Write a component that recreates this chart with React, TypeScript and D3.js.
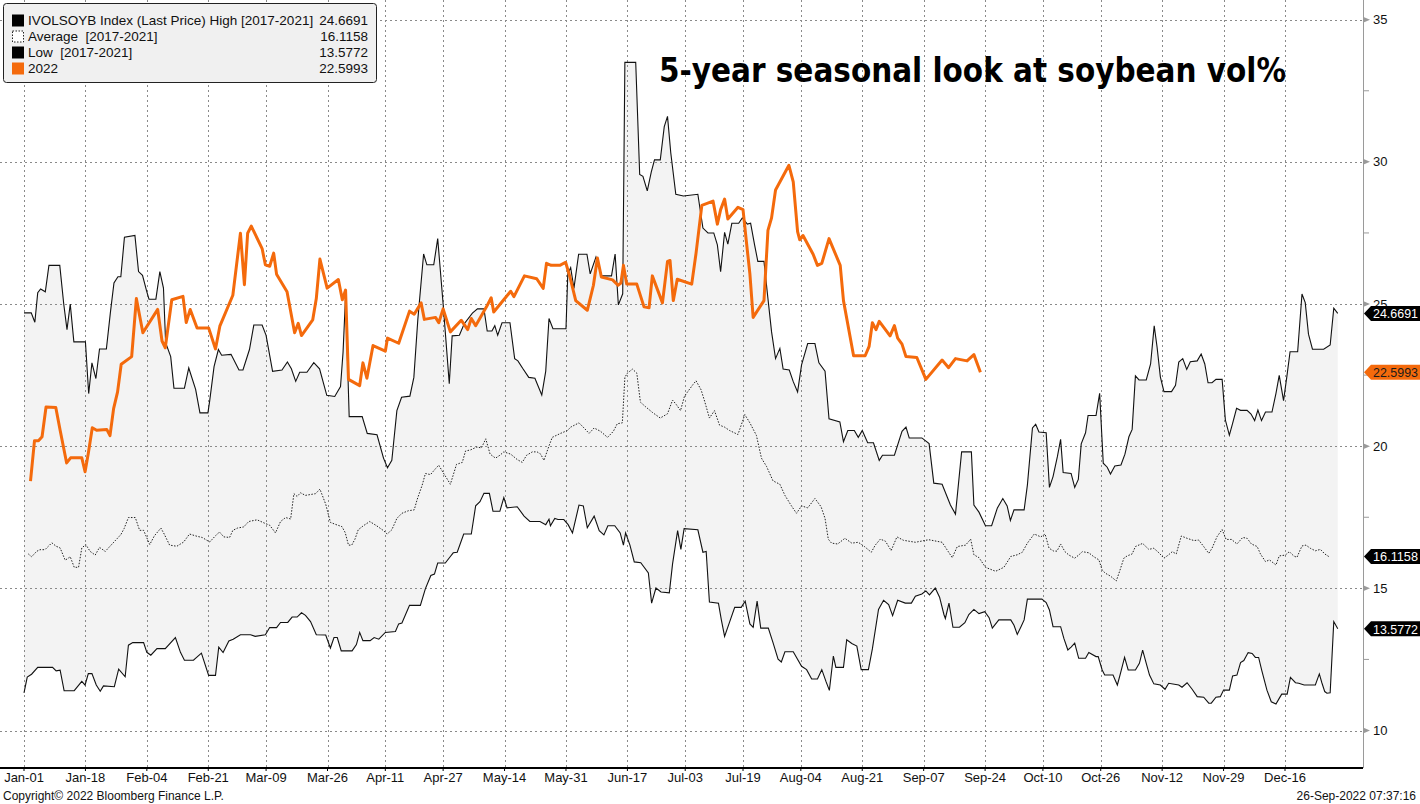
import * as d3 from "d3";

// x values are days since Jan-01, y values are implied vol in %
const tickDays = [0, 17, 34, 51, 67, 84, 100, 116, 133, 150, 167, 183, 199, 215, 232, 249, 266, 282, 298, 315, 332, 349];
const tickLabels = ["Jan-01", "Jan-18", "Feb-04", "Feb-21", "Mar-09", "Mar-26", "Apr-11", "Apr-27", "May-14", "May-31", "Jun-17", "Jul-03", "Jul-19", "Aug-04", "Aug-21", "Sep-07", "Sep-24", "Oct-10", "Oct-26", "Nov-12", "Nov-29", "Dec-16"];
const yTicks = [10, 15, 20, 25, 30, 35];
const yMinor = [12.5, 17.5, 22.5, 27.5, 32.5];

const highPts: [number, number][] = [
  [0, 24.69], [2, 24.69], [3, 24.36], [3.8, 25.4], [4.6, 25.53], [5.9, 25.43], [6.9, 26.36], [9.9, 26.36], [11, 25.0], [11.9, 24.1], [12.8, 25.0], [13.8, 23.67], [17, 23.67], [17.9, 21.85], [18.8, 22.93], [19.9, 22.38], [20.9, 23.42], [22.8, 23.42], [23.9, 24.69], [24.9, 25.74], [26, 25.96], [26.8, 25.96], [27.8, 27.35], [30.7, 27.41], [31.7, 26.14], [32.8, 26.01], [34, 25.43], [34.6, 25.17], [36.5, 25.17], [37.6, 26.14], [38.6, 25.56], [39.2, 23.64], [40.6, 23.15], [41.5, 22.04], [44.4, 22.04], [45.6, 22.75], [47.5, 22.0], [48.7, 21.17], [50.9, 21.17], [51.4, 21.6], [52.6, 22.8], [53.8, 23.4], [54.7, 23.2], [57.3, 23.23], [59.5, 22.68], [60.6, 22.68], [62.4, 23.4], [63.6, 24.26], [65.9, 24.26], [67, 23.9], [68.8, 22.63], [71.4, 22.68], [72.9, 22.96], [74, 22.72], [75.2, 22.28], [76.3, 22.6], [78.3, 22.6], [80.2, 22.94], [81.8, 22.72], [83.8, 21.79], [86, 21.75], [87.6, 22.1], [88.3, 23.3], [89, 25.3], [90, 21.04], [93.6, 21.04], [95, 20.45], [97.7, 20.4], [99.5, 19.58], [100.6, 19.24], [101.8, 19.5], [103.2, 21.25], [104.5, 21.72], [106.8, 21.76], [107.9, 22.42], [109, 24.46], [110.6, 26.76], [111.5, 26.38], [113.4, 26.38], [114.5, 27.3], [116, 25.0], [117.7, 22.2], [118.5, 23.88], [120.5, 23.9], [121.8, 24.3], [124.1, 24.68], [125.5, 24.83], [127.3, 24.83], [128.2, 24.05], [129.5, 24.05], [130.3, 24.24], [131.1, 23.9], [132.3, 24.34], [134.5, 24.34], [135.8, 23.08], [136.7, 23.0], [138, 22.74], [139.7, 22.42], [141.4, 22.39], [143.3, 21.8], [144.4, 22.64], [145.3, 24.49], [146.4, 24.13], [150, 24.13], [150.5, 26.06], [151.3, 26.28], [152.2, 25.55], [153.5, 26.75], [155.8, 26.75], [156.7, 26.06], [158.3, 26.65], [159.9, 25.99], [162.6, 25.99], [163.6, 26.76], [164.5, 24.97], [165.7, 25.36], [166.3, 33.5], [169.3, 33.5], [170.4, 29.56], [171.3, 29.49], [172.5, 28.98], [173.6, 29.64], [174.5, 30.07], [176.1, 30.07], [177.2, 31.24], [178.1, 31.6], [179, 30.32], [180.4, 28.86], [182.5, 28.8], [186.5, 28.86], [187.9, 27.67], [189.3, 27.5], [190.9, 27.5], [191.9, 27.08], [192.8, 26.14], [193.9, 27.52], [194.8, 27.11], [195.9, 27.84], [197.8, 27.84], [198.8, 28.03], [200.2, 27.81], [201.1, 27.84], [202.2, 27.08], [203.1, 26.5], [204.8, 26.5], [205.9, 25.19], [206.9, 24.02], [208, 23.08], [209.2, 23.44], [210.1, 22.71], [211.8, 22.68], [212.9, 22.27], [214.1, 21.91], [215.2, 22.86], [216.9, 23.61], [218.9, 23.61], [220, 22.93], [221.7, 22.64], [222.8, 20.96], [225.8, 20.85], [226.8, 20.16], [228, 20.55], [229.8, 20.55], [230.9, 20.31], [232, 20.55], [233.5, 20.12], [235.1, 20.12], [236.7, 19.5], [237.6, 19.68], [240.9, 19.68], [243, 20.52], [244.1, 20.67], [245, 20.29], [248.5, 20.29], [250.5, 20.09], [251.8, 18.7], [254.1, 18.66], [256.4, 17.93], [257.8, 17.61], [259.5, 19.8], [262.2, 19.8], [262.9, 17.93], [264.3, 17.68], [266.1, 17.2], [267.8, 17.2], [269.4, 17.83], [270.9, 18.16], [272.1, 17.9], [273, 17.39], [274, 17.76], [276.8, 17.76], [277.7, 18.63], [279.1, 20.64], [280, 20.77], [280.9, 20.5], [282.9, 20.47], [283.8, 18.55], [284.8, 18.93], [286, 19.63], [286.9, 20.24], [287.6, 19.07], [289.8, 19.04], [290.8, 18.55], [291.8, 18.83], [292.6, 20.08], [293.8, 20.47], [294.5, 21.08], [296.7, 21.08], [297.7, 21.86], [298.7, 19.4], [299.8, 19.26], [300.7, 19.02], [301.9, 19.3], [303.6, 19.34], [304.7, 19.72], [305.8, 20.33], [306.7, 20.59], [307.6, 22.47], [308.6, 22.33], [310.6, 22.33], [311.8, 22.89], [312.8, 24.23], [313.6, 23.48], [314.5, 22.44], [315.5, 21.92], [317.6, 21.92], [318.7, 22.14], [319.6, 22.96], [320.7, 23.08], [321.8, 22.7], [322.8, 22.97], [324.7, 23.0], [325.8, 23.24], [326.8, 22.89], [327.7, 22.23], [328.8, 22.23], [329.9, 22.35], [331.6, 22.35], [332.5, 20.92], [333.6, 20.39], [334.5, 20.8], [335.6, 21.33], [336.7, 21.26], [338.5, 21.26], [339.6, 21.13], [340.6, 20.9], [341.5, 21.27], [342.5, 20.9], [343.6, 21.2], [345.4, 21.2], [346.5, 21.86], [347.4, 22.49], [348.6, 21.6], [349.5, 22.44], [350.4, 23.32], [352.5, 23.32], [353.7, 25.35], [354.6, 25.05], [355.5, 23.94], [356.6, 23.41], [359.7, 23.41], [361.5, 23.56], [362.5, 24.85], [363.6, 24.67],
];

const lowPts: [number, number][] = [
  [0, 11.32], [0.9, 11.88], [2.1, 11.98], [3.8, 12.22], [7.9, 12.22], [8.9, 12.1], [10, 12.12], [11.1, 11.4], [13.9, 11.4], [16, 11.73], [16.9, 11.6], [17.8, 12.0], [18.8, 12.0], [20, 11.6], [21.1, 11.38], [22, 11.57], [25, 11.54], [26.2, 12.16], [28, 11.89], [28.9, 13.0], [30.1, 13.09], [33.1, 13.09], [34, 12.75], [35.1, 12.65], [36.8, 12.88], [39.1, 12.88], [41.9, 13.27], [43.3, 12.75], [44.4, 12.47], [46.9, 12.47], [49.1, 12.72], [51.1, 11.94], [53, 11.94], [53.9, 12.93], [55.1, 12.74], [56.7, 13.15], [57.9, 13.21], [59.9, 13.37], [62.7, 13.37], [64, 13.31], [66.8, 13.37], [68, 13.62], [69.9, 13.62], [71, 13.8], [73, 13.8], [74.2, 13.99], [75.6, 13.99], [76.8, 14.14], [77.9, 14.05], [79.3, 13.83], [80.9, 13.37], [83.5, 13.36], [84.8, 12.9], [85.8, 13.27], [86.7, 13.27], [87.8, 12.8], [90.8, 12.8], [92, 13.02], [92.9, 13.45], [93.8, 13.16], [95.8, 13.16], [96.9, 13.27], [98.2, 13.21], [100, 13.45], [102.8, 13.48], [103.7, 13.75], [104.6, 13.78], [106.7, 14.4], [109.7, 14.4], [111.1, 14.99], [112.6, 15.45], [113.6, 15.5], [114.5, 15.89], [116.6, 15.89], [118, 16.12], [118.8, 16.25], [119.9, 16.27], [121.7, 16.91], [123.8, 16.91], [125, 17.9], [126.2, 18.05], [127.3, 18.34], [128.8, 18.34], [129.8, 17.71], [131.7, 17.71], [132.8, 18.19], [133.7, 17.83], [136.5, 17.87], [138.4, 17.54], [140, 17.35], [142.8, 17.35], [144.4, 17.24], [145.3, 17.43], [145.7, 17.2], [146.9, 17.46], [147.8, 17.42], [149.4, 17.42], [150.6, 17.24], [151.8, 16.95], [153.6, 17.93], [154.8, 17.9], [155.9, 17.13], [157.8, 17.54], [159.2, 17.03], [160.5, 16.88], [161.6, 17.2], [163.5, 17.2], [165, 16.95], [165.9, 16.52], [166.5, 16.95], [167.7, 16.52], [168.9, 15.93], [170.7, 15.9], [172.8, 15.54], [173.7, 14.48], [174.9, 15.01], [176.3, 14.87], [178.6, 14.84], [179.5, 15.86], [180.9, 17.03], [181.8, 16.37], [182.7, 17.1], [186.5, 17.06], [187.9, 16.27], [188.8, 16.3], [189.7, 14.52], [192.2, 14.48], [193, 13.89], [193.9, 13.31], [195.3, 13.82], [196.7, 14.33], [198.5, 14.33], [199.6, 14.55], [200.9, 13.75], [201.8, 13.63], [202.9, 14.55], [203.9, 13.6], [206, 13.6], [207.3, 13.09], [208.7, 12.51], [209.6, 12.41], [210.6, 12.77], [212.9, 12.77], [215.2, 12.26], [216.6, 12.14], [218, 11.81], [219.6, 11.81], [220.8, 12.14], [222, 11.71], [222.9, 11.41], [224, 12.62], [224.7, 12.22], [226.8, 12.22], [227.7, 13.19], [229.1, 13.06], [230.5, 12.97], [231.7, 12.14], [233.7, 12.14], [234.8, 12.87], [236.5, 14.26], [237.9, 14.58], [239.3, 14.43], [240.4, 14.04], [241.8, 14.58], [243.9, 14.48], [245.6, 14.48], [246.7, 14.72], [248.5, 14.8], [249.6, 14.91], [250.6, 14.77], [252.2, 15.01], [253.4, 14.69], [254.6, 14.08], [255, 13.94], [256, 14.48], [257.1, 13.63], [258.9, 13.63], [260.4, 13.79], [261.5, 14.08], [262.9, 14.26], [264.3, 14.11], [265.9, 14.18], [267.1, 13.97], [268, 13.6], [269.8, 13.89], [273.1, 13.89], [274, 13.7], [274.9, 13.38], [276, 13.67], [276.8, 13.89], [277.7, 14.62], [281.7, 14.62], [282.9, 14.5], [283.8, 14.24], [284.8, 13.65], [286.9, 13.65], [287.8, 13.24], [288.9, 12.83], [289.8, 12.93], [290.8, 13.07], [291.9, 12.54], [293.8, 12.54], [294.7, 12.74], [296.7, 12.6], [297.3, 12.6], [298.4, 12.13], [299.1, 11.95], [301.4, 11.95], [302.6, 11.6], [303.5, 12.03], [304.6, 12.57], [305.6, 12.13], [307.6, 12.13], [308.7, 12.36], [309.6, 12.83], [310.6, 12.36], [311.5, 11.95], [312.7, 11.64], [314.5, 11.6], [315.8, 11.45], [316.8, 11.66], [319.6, 11.6], [320.5, 11.52], [321.9, 11.68], [323.3, 11.45], [324.7, 11.19], [326.5, 11.17], [327.9, 10.96], [328.6, 10.96], [329.9, 11.17], [331.1, 11.19], [332, 11.42], [333.6, 11.42], [334.5, 11.92], [335.7, 11.95], [336.7, 12.39], [337.6, 12.46], [338.8, 12.74], [339.9, 12.71], [340.8, 12.57], [341.7, 12.57], [342.6, 12.1], [344, 11.42], [345.2, 11.01], [346.5, 10.93], [347.4, 11.13], [348.1, 11.28], [349.6, 11.28], [350.5, 11.87], [351.9, 11.68], [352.8, 11.66], [354.3, 11.6], [357.4, 11.6], [358.5, 11.99], [359.2, 11.68], [360, 11.37], [360.6, 11.31], [361.5, 11.33], [362.5, 13.83], [363.6, 13.58],
];

const avgPts: [number, number][] = [
  [1.2, 16.21], [2.1, 16.11], [3.5, 16.3], [4.4, 16.36], [5.8, 16.36], [7.7, 16.6], [8.9, 16.48], [10, 16.42], [11.4, 15.99], [12.8, 16.11], [13.9, 15.74], [15.1, 15.74], [16, 16.42], [17.1, 16.54], [18.3, 16.3], [19.7, 16.17], [20.9, 16.44], [22.5, 16.3], [23.8, 16.48], [25.2, 16.67], [26.8, 16.89], [27.7, 17.1], [28.9, 17.49], [30.8, 17.49], [32, 17.04], [33.1, 17.04], [34.8, 16.54], [36.1, 16.85], [37.9, 17.12], [38.8, 16.91], [40.3, 16.52], [42.3, 16.48], [44.2, 16.63], [45.8, 16.91], [47.9, 16.83], [49.3, 16.79], [51.4, 16.63], [53, 16.85], [54.1, 16.98], [55.3, 16.81], [56.9, 16.79], [57.8, 17.04], [59.1, 17.12], [60.8, 17.16], [62.2, 17.35], [64.5, 17.41], [66.8, 17.28], [68, 17.22], [69.6, 16.95], [71, 17.35], [72.4, 17.49], [73.8, 17.44], [74.7, 18.33], [75.6, 18.23], [76.5, 18.36], [77.9, 18.27], [80.7, 18.33], [81.9, 18.49], [83.5, 17.96], [84.8, 17.32], [86.2, 17.25],
  [88, 17.17], [88.9, 16.96], [89.8, 16.52], [90.7, 16.52], [91.6, 16.73], [92.5, 17.06], [93.9, 17.2], [95.7, 17.35], [97.6, 17.2], [99.5, 17.03], [100.5, 16.91], [101.8, 17.06], [103.2, 17.46], [104.6, 17.64], [106.4, 17.73], [108, 17.76], [108.8, 18.12], [110.2, 18.63], [111.1, 19.04], [112.5, 19.0], [113.9, 19.21], [114.8, 19.33], [116, 19.07], [116.9, 18.89], [118, 18.66], [119, 19.07], [119.7, 19.36], [121.3, 19.43], [122.2, 19.83], [123.6, 19.87], [125.3, 19.97], [126.6, 19.94], [127.8, 20.26], [129, 19.72], [130.5, 19.58], [131.7, 19.68], [132.8, 19.8], [134.7, 19.72], [136.5, 19.53], [137.9, 19.43], [139.1, 19.68], [140.7, 19.8], [142, 19.8], [143, 19.72], [143.9, 19.5], [145.3, 20.01], [146.2, 20.31], [148.5, 20.45], [150.4, 20.55], [151.3, 20.67], [153.6, 20.82], [155, 20.64], [156.4, 20.45], [157.8, 20.64], [159.6, 20.52], [161.5, 20.31], [163.1, 20.52], [164.2, 20.79], [165.6, 20.82], [166.3, 22.42], [167, 22.57], [168.4, 22.71], [169.6, 22.57], [170.6, 21.55], [171.9, 21.4], [174, 21.18], [176.1, 20.99], [178.1, 21.14], [179.5, 21.62], [180.5, 21.47], [181.7, 21.25], [182.8, 21.76],
  [185.1, 22.16], [186, 22.3], [187.4, 21.98], [188.4, 21.57], [189.7, 20.99], [191.1, 21.25], [192.5, 20.74], [193.9, 20.67], [195.3, 20.55], [197.6, 20.41], [199.5, 21.11], [200.9, 20.82], [202.7, 20.38], [204.1, 19.58], [205.5, 19.29], [207.3, 18.78], [209.2, 18.66], [210.6, 18.27], [212.4, 17.9], [213.8, 17.64], [215.2, 17.9], [216.9, 17.83], [218.9, 18.16], [220.6, 17.87], [221.7, 17.46], [222.6, 16.73], [223.5, 16.59], [225.2, 16.56], [227.2, 16.76], [229.1, 16.59], [230.9, 16.62], [232.6, 16.47], [234.5, 16.27], [235.6, 16.52], [237, 16.73], [238.4, 16.66], [240, 16.33], [241.6, 16.81], [243.4, 16.69], [246.7, 16.62], [250.4, 16.71], [254.1, 16.62], [256.9, 16.08], [258.3, 16.47], [260.6, 16.52], [262, 16.73], [262.9, 16.18], [264.3, 16.08], [266.1, 15.74], [268.9, 15.6], [271.2, 15.74], [273.1, 16.12], [274.9, 16.18], [276.3, 16.27], [277.7, 16.59], [279.6, 16.91],
  [281.4, 16.81], [282.6, 16.91], [283.7, 16.41], [285, 16.31], [285.9, 16.31], [286.9, 16.56], [288.1, 16.29], [289.2, 16.17], [290.8, 16.06], [291.9, 16.17], [292.9, 16.29], [294.7, 16.25], [296.1, 16.11], [297.5, 16.0], [298.4, 15.64], [299.3, 15.53], [300.7, 15.43], [302.3, 15.26], [303.2, 15.59], [304.4, 16.06], [305.3, 16.14], [306.7, 16.21], [307.6, 16.47], [309.6, 16.58], [311.3, 16.37], [312.7, 16.41], [314.1, 16.25], [315.5, 16.06], [316.7, 16.17], [317.8, 16.29], [318.9, 16.21], [320.3, 16.84], [321.9, 16.76], [323.8, 16.68], [325.1, 16.7], [326.5, 16.47], [327.9, 16.23], [328.8, 16.41], [330.2, 16.82], [331.6, 17.07], [332.7, 16.72], [334.2, 16.72], [335.7, 16.56], [337.3, 16.79], [338.5, 16.76], [339.7, 16.56], [341.3, 16.47], [342.2, 16.21], [343.6, 15.94], [344.7, 16.0], [346.5, 15.82], [347.4, 16.14], [349.1, 16.17], [350.2, 16.29], [351.4, 16.14], [352.3, 16.09], [353.7, 16.49], [354.8, 16.52], [356, 16.41], [357.4, 16.32], [358.8, 16.37], [360, 16.21], [361.1, 16.12],
];

const y2022Pts: [number, number][] = [
  [1.8, 18.77], [2.9, 20.19], [4, 20.19], [5, 20.33], [6.1, 21.38], [8.8, 21.36], [10, 20.56], [11.8, 19.41], [12.9, 19.59], [16, 19.59], [16.9, 19.1], [17.8, 19.75], [18.9, 20.65], [20.1, 20.56], [22.9, 20.59], [23.8, 20.37], [24.8, 21.32], [25.9, 21.91], [26.9, 22.88], [29.8, 23.15], [31.1, 25.19], [32.9, 23.99], [37, 24.81], [38.2, 23.7], [39.1, 23.46], [40.9, 25.15], [44, 25.27], [44.9, 24.35], [46, 24.81], [47.9, 24.16], [51.1, 24.16], [53, 23.42], [54.2, 24.22], [57.8, 25.31], [59.9, 27.49], [61, 25.68], [61.9, 27.49], [62.9, 27.74], [65.9, 26.95], [66.8, 26.38], [68, 26.33], [69.1, 26.79], [69.9, 26.05], [72.8, 25.43], [74.9, 23.99], [75.9, 24.32], [76.8, 23.89], [79.9, 24.44], [80.9, 25.19], [81.9, 26.58], [83.9, 25.56], [87, 25.86], [88.1, 25.15], [89, 25.49], [89.8, 22.35], [92.9, 22.13], [93.8, 22.93], [94.9, 22.39], [96.6, 23.54], [100, 23.34], [100.6, 23.8], [103.7, 23.62], [106.7, 24.75], [108, 24.64], [109.9, 25.04], [110.8, 24.46], [113.9, 24.53], [114.8, 24.34], [116, 24.83], [118, 24.02], [121, 24.43], [122.8, 24.1], [123.8, 24.49], [125, 24.24], [128, 24.9], [129.3, 25.22], [130, 24.72], [134.7, 25.45], [135.6, 25.26], [138.5, 25.99], [141.9, 25.89], [143.7, 25.55], [144.6, 26.43], [145.9, 26.36], [148.3, 26.36], [149.9, 26.47], [151.1, 25.95], [152.7, 25.12], [155.9, 24.78], [157.6, 25.66], [158.7, 26.62], [159.8, 25.95], [162.9, 25.85], [164.4, 25.66], [165.2, 25.74], [165.9, 26.36], [166.8, 25.7], [169.6, 25.7], [171.6, 24.9], [173, 24.87], [173.9, 25.99], [176.7, 25.04], [178.1, 26.5], [178.8, 26.53], [179.7, 25.12], [180.8, 25.87], [184.8, 25.7], [186, 26.79], [187.6, 28.47], [190.7, 28.62], [191.9, 27.81], [192.8, 28.32], [193.9, 28.69], [194.8, 27.99], [197.6, 28.4], [199, 28.32], [199.9, 27.23], [200.9, 26.06], [201.8, 24.53], [204.8, 25.12], [205.9, 27.59], [206.9, 28.03], [208, 29.01], [211.7, 29.88], [212.9, 29.3], [214.1, 27.55], [214.7, 27.26], [215.6, 27.41], [218.4, 26.75], [219.6, 26.36], [220.8, 26.43], [222.8, 27.3], [225.9, 26.36], [226.8, 25.12], [229.6, 23.18], [232.8, 23.18], [233.9, 23.51], [234.8, 24.34], [235.8, 24.1], [236.7, 24.39], [239.7, 23.88], [240.9, 24.24], [241.8, 23.8], [243, 23.59], [244.1, 23.15], [247.1, 23.12], [249.6, 22.35], [254.1, 23.03], [255.9, 22.76], [257.8, 23.08], [261, 23.0], [262.9, 23.22], [264.7, 22.6],
];

const legendNames = ["IVOLSOYB Index (Last Price) High [2017-2021]", "Average  [2017-2021]", "Low  [2017-2021]", "2022"];
const lastValues = [24.6691, 16.1158, 13.5772, 22.5993];

const ORANGE = "#f46a0c";
const FONT = "'Liberation Sans', Arial, sans-serif";

export default function App() {
  const W = 1420, H = 804;
  const plotRight = 1363, plotBottom = 768;

  const x = d3.scaleLinear().domain([0, 349]).range([24, 1285]);
  const y = d3.scaleLinear().domain([10, 35]).range([730.5, 19.7]);

  const line = d3.line<[number, number]>().x(d => x(d[0])).y(d => y(d[1]));
  const bandPath = line(highPts) + (line([...lowPts].reverse()) || "").replace(/^M/, "L") + "Z";

  const tagRows = [
    { v: lastValues[0], fill: "#000", color: "#fff" },
    { v: lastValues[3], fill: ORANGE, color: "#1a1a1a" },
    { v: lastValues[1], fill: "#000", color: "#fff" },
    { v: lastValues[2], fill: "#000", color: "#fff" },
  ];

  return (
    <svg width={W} height={H} style={{ position: "absolute", left: 0, top: 0, background: "#fff" }} fontFamily={FONT}>
      <defs>
        <clipPath id="plot">
          <rect x={0} y={0} width={plotRight} height={plotBottom} />
        </clipPath>
      </defs>

      {/* high-low band */}
      <path d={bandPath} fill="#f3f3f3" stroke="none" clipPath="url(#plot)" />

      {/* grid */}
      {yTicks.map(t => (
        <line key={"gy" + t} x1={0} x2={plotRight} y1={Math.round(y(t)) + 0.5} y2={Math.round(y(t)) + 0.5}
          stroke="#8a8a8a" strokeDasharray="2,3" />
      ))}
      {tickDays.map(d => (
        <line key={"gx" + d} x1={Math.round(x(d)) + 0.5} x2={Math.round(x(d)) + 0.5} y1={0} y2={plotBottom}
          stroke="#8a8a8a" strokeDasharray="2,3" />
      ))}

      <g clipPath="url(#plot)" fill="none">
        <path d={line(highPts) || ""} stroke="#111" strokeWidth={1.1} />
        <path d={line(lowPts) || ""} stroke="#111" strokeWidth={1.1} />
        <path d={line(avgPts) || ""} stroke="#222" strokeWidth={1} strokeDasharray="1.5,1.5" />
        <path d={line(y2022Pts) || ""} stroke={ORANGE} strokeWidth={3} strokeLinejoin="round" />
      </g>

      {/* bottom axis */}
      <line x1={0} x2={plotRight} y1={plotBottom} y2={plotBottom} stroke="#000" strokeWidth={2} />
      {tickDays.map((d, i) => (
        <g key={"xt" + d}>
          <line x1={x(d)} x2={x(d)} y1={plotBottom} y2={plotBottom + 3} stroke="#000" />
          <text x={x(d)} y={782} fontSize={13} textAnchor="middle" fill="#111">{tickLabels[i]}</text>
        </g>
      ))}

      {/* right axis */}
      <line x1={plotRight + 0.5} x2={plotRight + 0.5} y1={0} y2={plotBottom} stroke="#9a9a9a" />
      {yMinor.map(t => (
        <line key={"ym" + t} x1={plotRight} x2={plotRight + 6} y1={y(t)} y2={y(t)} stroke="#9a9a9a" />
      ))}
      {yTicks.map(t => (
        <g key={"yt" + t}>
          <path d={`M${plotRight},${y(t) - 3}L${plotRight + 7},${y(t)}L${plotRight},${y(t) + 3}Z`} fill="#9a9a9a" />
          <text x={plotRight + 10} y={y(t) + 4.5} fontSize={13} fill="#111">{t}</text>
        </g>
      ))}

      {/* last value tags */}
      {tagRows.map(r => {
        const cy = y(r.v);
        return (
          <g key={"tag" + r.v}>
            <path d={`M${plotRight + 1},${cy}L${plotRight + 8},${cy - 7.5}L${W},${cy - 7.5}L${W},${cy + 7.5}L${plotRight + 8},${cy + 7.5}Z`}
              fill={r.fill} />
            <text x={plotRight + 10} y={cy + 4.8} fontSize={13} fill={r.color}
              textLength={45} lengthAdjust="spacingAndGlyphs">{r.v.toFixed(4)}</text>
          </g>
        );
      })}

      {/* legend */}
      <rect x={3.5} y={3.5} width={373} height={79} rx={3} fill="#f0f0f0" stroke="#222" />
      {legendNames.map((n, i) => {
        const cy = 20.5 + i * 16;
        const sw = i === 1
          ? <rect x={12.5} y={cy - 5.5} width={11} height={11} fill="#fff" stroke="#222" strokeDasharray="1.5,1.5" />
          : <rect x={12} y={cy - 6} width={12} height={12} fill={i === 3 ? ORANGE : "#000"} />;
        return (
          <g key={"lg" + i}>
            {sw}
            <text x={28} y={cy + 4.5} fontSize={13.5} fill="#111" style={{ whiteSpace: "pre" }}>{n}</text>
            <text x={368} y={cy + 4.5} fontSize={13.5} fill="#111" textAnchor="end">{lastValues[i].toFixed(4)}</text>
          </g>
        );
      })}

      {/* title */}
      <text x={659} y={82} fontSize={33} fontWeight="bold" fill="#000"
        fontFamily="'DejaVu Sans Condensed', 'DejaVu Sans', sans-serif"
        textLength={627} lengthAdjust="spacingAndGlyphs">5-year seasonal look at soybean vol%</text>

      {/* footer */}
      <text x={3} y={800} fontSize={12} fill="#111">Copyright© 2022 Bloomberg Finance L.P.</text>
      <text x={1416} y={800} fontSize={12} fill="#111" textAnchor="end">26-Sep-2022 07:37:16</text>
    </svg>
  );
}
